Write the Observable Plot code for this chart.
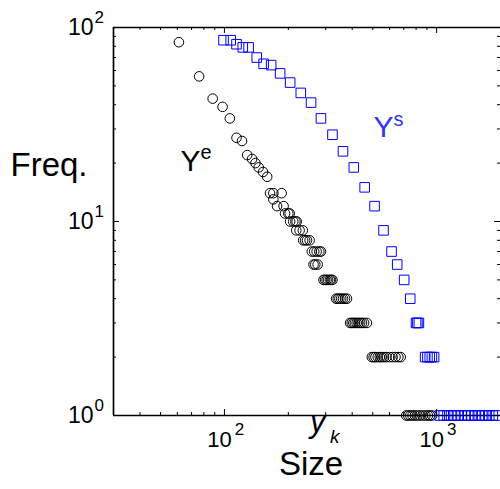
<!DOCTYPE html>
<html><head><meta charset="utf-8">
<script src="https://cdn.jsdelivr.net/npm/d3@7"></script>
<script src="https://cdn.jsdelivr.net/npm/@observablehq/plot@0.6"></script>
<style>html,body{margin:0;padding:0;background:#fff;overflow:hidden}</style>
</head><body><div id="chart"></div>
<script>
// Series Y^e (circles): size y_k and frequency
const yeSize = [61,76,88,98,106,114,121,128,135,140,145,152,159,164,170,186,170,177,190,193,200,203,204,211,216,219,218,226,234,235,240,245,252,258,265,272,280,285,263,268,275,293,298,303,308,314,318,323,336,342,348,355,362,370,378,391,398,405,412,420,428,436,445,455,469,495,505,515,528,540,552,565,580,600,620,640,660,677,719,735,752,770,790,812,835,860,885,910,930,953];
const yeFreq = [84,56,43,39,34,27,26,22,21,20,19,18,17,14,14,14,13,12,12,11,11,11,10,10,10,10,9,9,9,8,8,8,8,7,7,7,7,7,6,6,6,5,5,5,5,5,5,5,4,4,4,4,4,4,4,3,3,3,3,3,3,3,3,3,3,2,2,2,2,2,2,2,2,2,2,2,2,2,1,1,1,1,1,1,1,1,1,1,1,1];
// Series Y^s (squares)
const ysSize = [99,107,114,122,130,142,153,166,183,204,229,256,285,323,362,407,458,510,562,613,652,703,751,800,812,825,883,905,928,950,973,1035,1080,1125,1170,1215,1260,1310,1360,1410,1460,1520,1580,1640,1700,1770,1840,1910];
const ysFreq = [86,86,82,79,79,70,65,64,58,52,46,41,34,28,23,19,15,12,9,7,6,5,4,3,3,3,2,2,2,2,2,1,1,1,1,1,1,1,1,1,1,1,1,1,1,1,1,1];

// ticks and labels
const xMajor = [100, 1000];
const xMajorExp = ["2", "3"];
const xMinor = [40,50,60,70,80,90,200,300,400,500,600,700,800,900];
const yMajor = [1, 10, 100];
const yMajorExp = ["0", "1", "2"];
const yMinor = [2,3,4,5,6,7,8,9,20,30,40,50,60,70,80,90];
const xDomain = [30, 2000];
const yDomain = [1, 100];

// series annotations
const seriesNames = ["Y", "Y"];
const seriesSups = ["e", "s"];
const seriesLabelX = [62, 504];
const seriesLabelY = [20.5, 30.4];
const seriesColors = ["#000000", "#3535f5"];

const yeData = yeSize.map((s, i) => ({size: s, freq: yeFreq[i]}));
const ysData = ysSize.map((s, i) => ({size: s, freq: ysFreq[i]}));
const labels = seriesNames.map((n, i) => ({name: n, sup: seriesSups[i], x: seriesLabelX[i], y: seriesLabelY[i], color: seriesColors[i]}));

const W = 500, H = 489, mL = 113, mR = 0, mT = 27, mB = 74;
const iW = W - mL - mR, iH = H - mT - mB;
const font = "'Liberation Sans', Arial, Helvetica, sans-serif";

const chart = Plot.plot({
  width: W, height: H,
  marginLeft: mL, marginRight: mR, marginTop: mT, marginBottom: mB,
  style: {fontFamily: font, background: "#fff", color: "#000", overflow: "visible"},
  x: {type: "log", domain: xDomain},
  y: {type: "log", domain: yDomain},
  marks: [
    // inward ticks: bottom, top, left, right
    Plot.tickX(xMinor, {x: d => d, insetTop: iH - 3, stroke: "#000"}),
    Plot.tickX(xMajor, {x: d => d, insetTop: iH - 6, stroke: "#000"}),
    Plot.tickX(xMinor, {x: d => d, insetBottom: iH - 3, stroke: "#000"}),
    Plot.tickX(xMajor, {x: d => d, insetBottom: iH - 6, stroke: "#000"}),
    Plot.tickY(yMinor, {y: d => d, insetRight: iW - 3, stroke: "#000"}),
    Plot.tickY(yMajor, {y: d => d, insetRight: iW - 6, stroke: "#000"}),
    Plot.tickY(yMinor, {y: d => d, insetLeft: iW - 3, stroke: "#000"}),
    Plot.tickY(yMajor, {y: d => d, insetLeft: iW - 6, stroke: "#000"}),
    // box (left, top, bottom)
    Plot.ruleY([yDomain[0]], {stroke: "#000", strokeWidth: 1.7}),
    Plot.ruleY([yDomain[1]], {stroke: "#000", strokeWidth: 1.7}),
    Plot.ruleX([xDomain[0]], {stroke: "#000", strokeWidth: 1.7}),
    // tick labels 10^n
    Plot.axisX({anchor: "bottom", ticks: xMajor, tickFormat: () => "10", tickSize: 0, tickPadding: 0, fontSize: 22, dx: -5, dy: 16, label: null}),
    Plot.axisX({anchor: "bottom", ticks: xMajor, tickFormat: d => xMajorExp[xMajor.indexOf(d)], tickSize: 0, tickPadding: 0, fontSize: 17, dx: 15, dy: 7, label: null}),
    Plot.axisY({anchor: "left", ticks: yMajor, tickFormat: () => "10", tickSize: 0, tickPadding: 0, fontSize: 23, dx: -20, label: null}),
    Plot.axisY({anchor: "left", ticks: yMajor, tickFormat: d => yMajorExp[yMajor.indexOf(d)], tickSize: 0, tickPadding: 0, fontSize: 17, textAnchor: "start", dx: -19, dy: -10, label: null}),
    // axis titles
    Plot.text(["Freq."], {text: d => d, frameAnchor: "left", textAnchor: "start", dx: -103, dy: -56, fontSize: 33, fill: "#000"}),
    Plot.text(["Size"], {text: d => d, frameAnchor: "bottom", dx: 4, dy: 59, fontSize: 33, fill: "#000"}),
    Plot.text(["y"], {text: d => d, frameAnchor: "bottom", textAnchor: "start", dx: 3, dy: 16, fontSize: 31, fontStyle: "italic", fill: "#000"}),
    Plot.text(["k"], {text: d => d, frameAnchor: "bottom", textAnchor: "start", dx: 23, dy: 27, fontSize: 19, fontStyle: "italic", fill: "#000"}),
    // data
    Plot.dot(yeData, {x: "size", y: "freq", r: 4.8, stroke: "#000", fill: "none", strokeWidth: 1}),
    Plot.dot(ysData, {x: "size", y: "freq", symbol: "square", r: 5.4, stroke: "#0000ff", fill: "none", strokeWidth: 1}),
    // series labels
    Plot.text(labels, {x: "x", y: "y", text: "name", fill: "color", fontSize: 30, textAnchor: "start"}),
    Plot.text(labels, {x: "x", y: "y", text: "sup", fill: "color", fontSize: 20, textAnchor: "start", dx: 20, dy: -8})
  ]
});
document.getElementById("chart").appendChild(chart);
</script>
</body></html>
